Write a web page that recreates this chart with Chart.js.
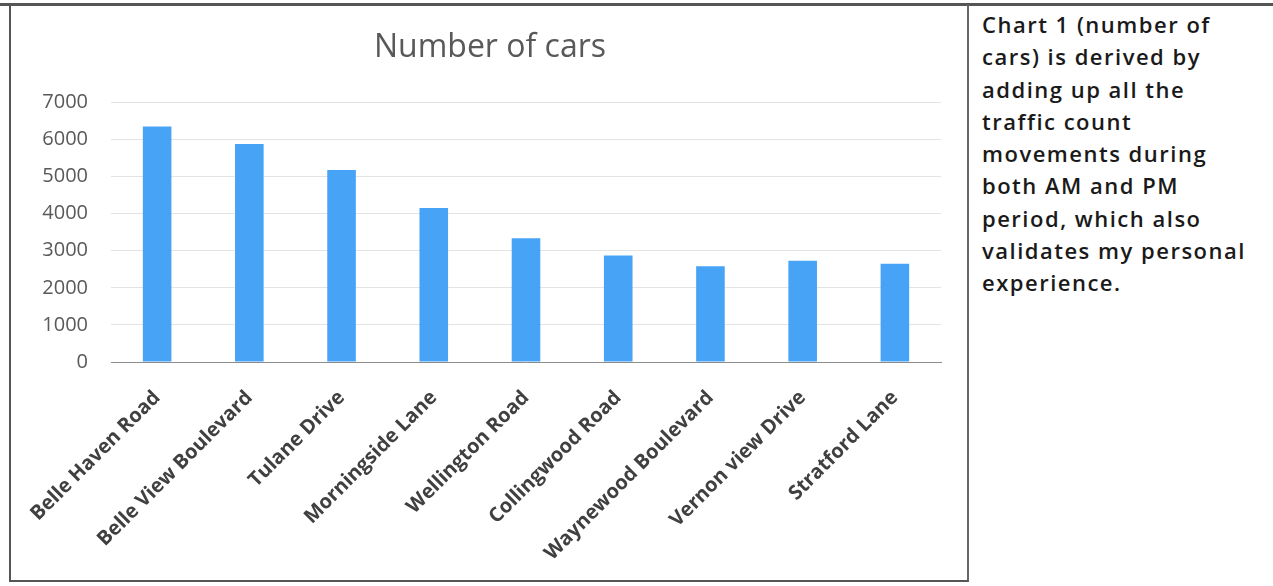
<!DOCTYPE html>
<html>
<head>
<meta charset="utf-8">
<title>Number of cars</title>
<script src="https://cdn.jsdelivr.net/npm/chart.js@4.4.1/dist/chart.umd.min.js"></script>
<style>
    html, body { margin: 0; padding: 0; background: #fff; }
    body { width: 1273px; height: 586px; position: relative; overflow: hidden; }
    #topLine { position: absolute; left: 0; top: 3px; width: 1273px; height: 3px; background: #555; }
    #chartCell {
        position: absolute; left: 9px; top: 5px; width: 956px; height: 575px;
        border-left: 2px solid #555; border-right: 2px solid #666; border-bottom: 2px solid #555;
    }
    #chartBox { position: absolute; left: 0; top: 1px; width: 955px; height: 575px; }
    #note {
        position: absolute; left: 982px; top: 8px;
        font-family: "Open Sans", sans-serif; font-weight: 600; font-size: 22px;
        letter-spacing: 1.5px; line-height: 32.3px; color: #1a1a1a; white-space: nowrap;
    }
</style>
</head>
<body>
<div id="topLine"></div>
<div id="chartCell">
    <div id="chartBox"><canvas id="barChart"></canvas></div>
</div>
<div id="note">Chart 1 (number of<br>cars) is derived by<br>adding up all the<br>traffic count<br>movements during<br>both AM and PM<br>period, which also<br>validates my personal<br>experience.</div>

<script>
// values
var roads = ['Belle Haven Road', 'Belle View Boulevard', 'Tulane Drive', 'Morningside Lane', 'Wellington Road',
    'Collingwood Road', 'Waynewood Boulevard', 'Vernon view Drive', 'Stratford Lane'];
var carCounts = [6350, 5880, 5180, 4150, 3340, 2870, 2580, 2730, 2650];
var yTickLabels = ['0', '1000', '2000', '3000', '4000', '5000', '6000', '7000'];

document.addEventListener('DOMContentLoaded', function () {
    Charts();
});

function Charts() {
    var ctx = document.getElementById('barChart').getContext('2d');

    var barData = {
        labels: roads,
        datasets: [
            {
                data: carCounts,
                backgroundColor: '#47a3f6',
                barPercentage: 0.62,
                categoryPercentage: 0.5
            }
        ]
    };

    var barOptions = {
        maintainAspectRatio: false,
        responsive: true,
        animation: false,
        // left/right padding keeps the title centred where the original has it
        layout: { padding: { left: 28, right: 25, top: 0, bottom: 0 } },
        plugins: {
            legend: { display: false },
            tooltip: { enabled: false },
            title: {
                display: true,
                text: 'Number of cars',
                color: '#595959',
                font: { family: 'Open Sans', size: 32, weight: 'normal' },
                padding: { top: 23, bottom: 35 }
            }
        },
        scales: {
            x: {
                grid: { display: false },
                border: { display: true, color: '#8c8c8c', width: 1 },
                ticks: {
                    color: '#404040',
                    font: { family: 'Open Sans', size: 20, weight: 'bold' },
                    minRotation: 45,
                    maxRotation: 45,
                    padding: 16,
                    autoSkip: false
                },
                afterFit: function (scale) { scale.height = 219; }
            },
            y: {
                min: 0,
                max: 7000,
                grid: { color: '#e3e3e3', drawTicks: false },
                border: { display: false },
                ticks: {
                    stepSize: 1000,
                    padding: 23,
                    color: '#595959',
                    font: { family: 'Open Sans', size: 20 },
                    callback: function (value) { return yTickLabels[value / 1000]; }
                },
                afterFit: function (scale) { scale.width = 72; }
            }
        }
    };

    new Chart(ctx, {
        type: 'bar',
        data: barData,
        options: barOptions
    });
}
</script>
</body>
</html>
